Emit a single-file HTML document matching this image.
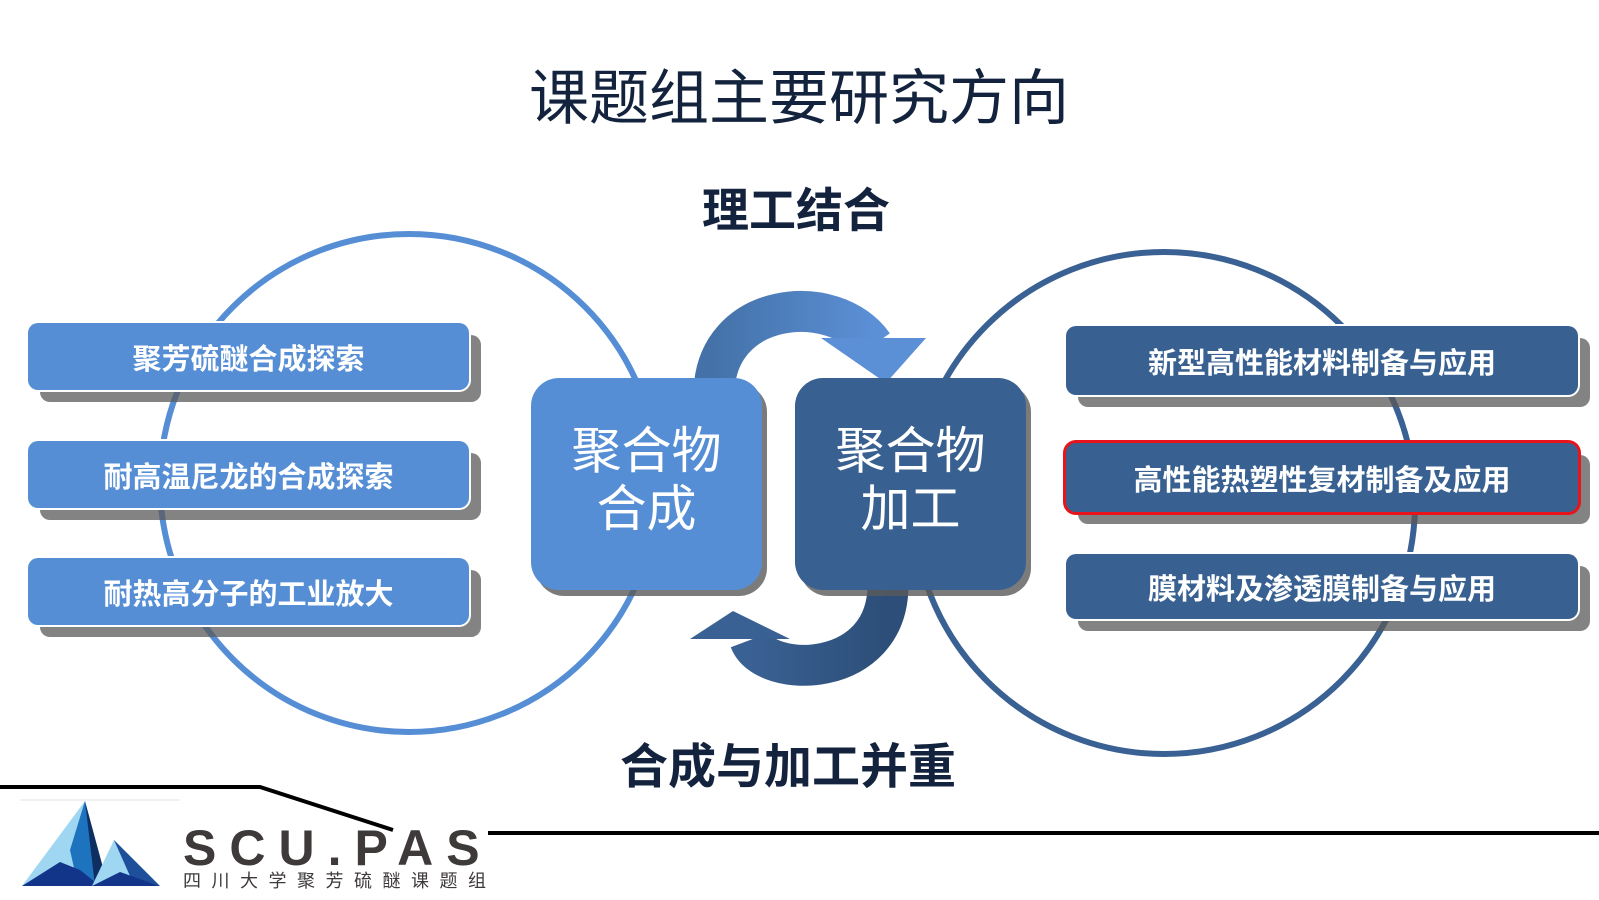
<!DOCTYPE html>
<html><head><meta charset="utf-8"><style>
body{margin:0;width:1599px;height:900px;background:#fff;overflow:hidden;position:relative;font-family:"Liberation Sans","Noto Sans CJK SC",sans-serif}
.t{position:absolute;white-space:nowrap;color:#14233d}
.box{position:absolute;border-radius:10px;color:#fff;font-weight:bold;display:flex;align-items:center;justify-content:center;box-shadow:0 0 0 2px #fff,12px 12px 0 rgba(90,90,90,0.75);}
.lb{left:28px;width:441px;height:67px;background:#558ed5;font-size:29px}
.rb{left:1066px;width:512px;background:#386192;font-size:29px}
.cb{position:absolute;top:378px;width:231px;height:212px;border-radius:28px;color:#fff;font-size:50px;line-height:58px;text-align:center;display:flex;align-items:center;justify-content:center;box-shadow:5px 6px 0 rgba(90,90,90,0.8)}
</style></head><body>
<svg width="1599" height="900" style="position:absolute;left:0;top:0">
<circle cx="409" cy="483" r="249" fill="none" stroke="#558ed5" stroke-width="6"/>
<circle cx="1164" cy="503" r="251" fill="none" stroke="#3a6193" stroke-width="6"/>
<defs>
<linearGradient id="g1" x1="0" x2="1"><stop offset="0" stop-color="#4472a8"/><stop offset="1" stop-color="#5b8fd6"/></linearGradient>
<linearGradient id="g2" x1="0" x2="1"><stop offset="0" stop-color="#3a6193"/><stop offset="1" stop-color="#2c4e78"/></linearGradient>
</defs>
<path d="M714 420 L714 395 C714 300, 835 290, 873 345" fill="none" stroke="url(#g1)" stroke-width="41"/>
<polygon points="821,338 926,338 886,383" fill="#5b8fd6"/>
<path d="M888 585 C888 680, 765 680, 750 640" fill="none" stroke="url(#g2)" stroke-width="41"/>
<polygon points="690,639 790,639 733,611" fill="#3a6193"/>
<path d="M0 787 L260 787 L393 830" fill="none" stroke="#000" stroke-width="4"/>
<line x1="488" y1="833" x2="1599" y2="833" stroke="#000" stroke-width="4"/>
<line x1="20" y1="800" x2="180" y2="800" stroke="#e4e4e4" stroke-width="1"/>
<polygon points="22,886 85,801 100,886" fill="#9fd6f2"/>
<polygon points="85,801 100,886 78,886 70,850" fill="#1e73be"/>
<polygon points="85,801 108,886 95,886" fill="#0f2f63"/>
<polygon points="22,886 60,862 80,870 100,886" fill="#12358a"/>
<polygon points="92,886 114,840 160,886" fill="#9fd6f2"/>
<polygon points="114,840 160,886 130,876" fill="#1e4f9a"/>
<polygon points="92,886 120,872 160,886" fill="#12358a"/>
</svg>
<div class="t" style="left:529px;top:64px;font-size:60px;line-height:70px">课题组主要研究方向</div>
<div class="t" style="left:702px;top:183px;font-size:47px;font-weight:bold;line-height:56px">理工结合</div>
<div class="t" style="left:620px;top:740px;font-size:48px;font-weight:bold;line-height:56px">合成与加工并重</div>

<div class="box lb" style="top:323px">聚芳硫醚合成探索</div>
<div class="box lb" style="top:441px">耐高温尼龙的合成探索</div>
<div class="box lb" style="top:558px">耐热高分子的工业放大</div>

<div class="box rb" style="top:326px;height:69px">新型高性能材料制备与应用</div>
<div class="box rb" style="top:443px;height:69px;box-shadow:0 0 0 3px #e8141c,12px 12px 0 rgba(90,90,90,0.75)">高性能热塑性复材制备及应用</div>
<div class="box rb" style="top:554px;height:65px">膜材料及渗透膜制备与应用</div>

<div class="cb" style="left:531px;background:#558ed5"><div style="margin-top:-8px">聚合物<br>合成</div></div>
<div class="cb" style="left:795px;background:#386192"><div style="margin-top:-8px">聚合物<br>加工</div></div>

<div class="t" style="left:183px;top:822px;font-size:50px;font-weight:bold;color:#3e3a3a;letter-spacing:13px;line-height:52px">SCU.PAS</div>
<div class="t" style="left:183px;top:870px;font-size:18px;color:#3e3a3a;letter-spacing:10.5px;line-height:22px">四川大学聚芳硫醚课题组</div>
</body></html>
